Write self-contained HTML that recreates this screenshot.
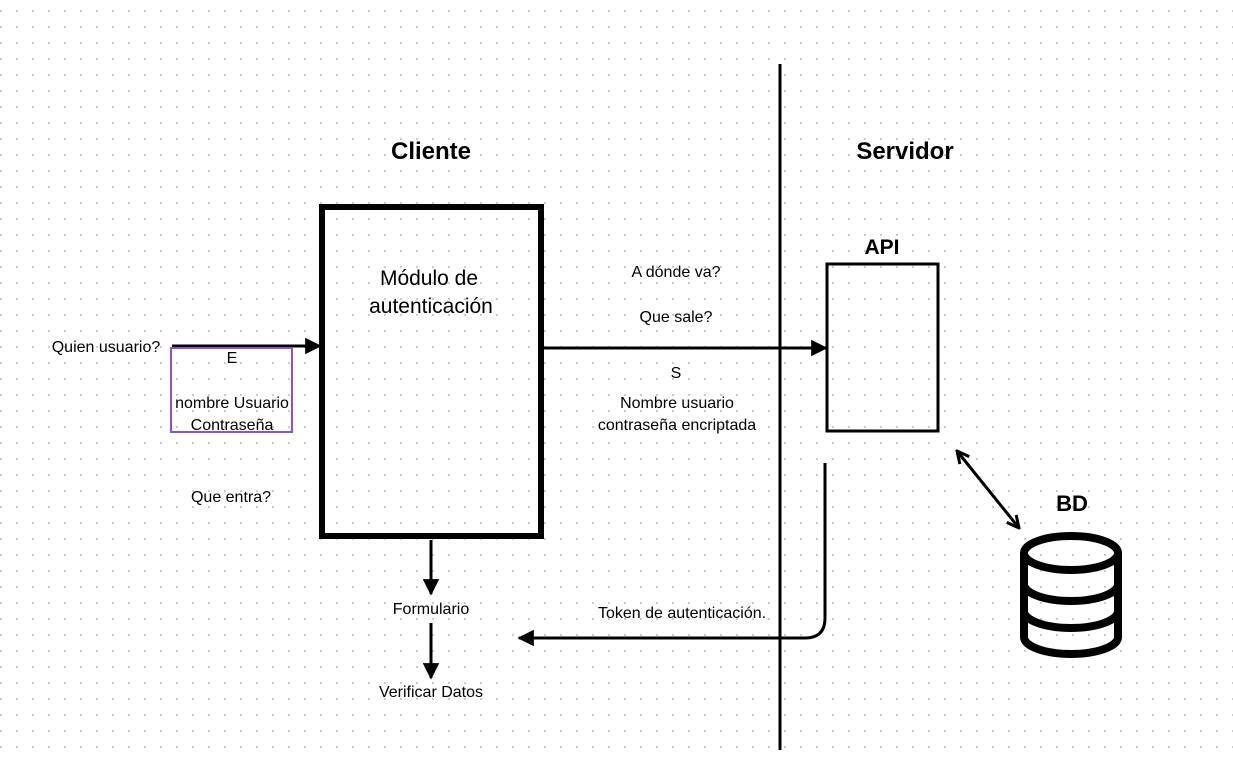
<!DOCTYPE html>
<html><head><meta charset="utf-8"><style>
html,body{margin:0;padding:0;background:#fff;}
svg{display:block;}
text{font-family:"Liberation Sans","DejaVu Sans",sans-serif;fill:#000;}
</style></head><body>
<svg width="1233" height="758" viewBox="0 0 1233 758" xmlns="http://www.w3.org/2000/svg">
<defs>
<pattern id="dots" x="0" y="10" width="16" height="16" patternUnits="userSpaceOnUse">
<rect x="0" y="0" width="2" height="2" fill="#c9cad6"/>
</pattern>
<marker id="tri" viewBox="0 0 10 10" refX="9" refY="5" markerWidth="5.5" markerHeight="5.5" orient="auto">
<path d="M0,0 L10,5 L0,10 Z" fill="#000"/>
</marker>
<marker id="ah" viewBox="0 0 10 10" refX="9" refY="5" markerWidth="5" markerHeight="5" orient="auto-start-reverse">
<path d="M1,1 L9,5 L1,9" fill="none" stroke="#000" stroke-width="2"/>
</marker>
</defs>
<rect width="1233" height="758" fill="#fff"/>
<rect width="1233" height="758" fill="url(#dots)"/>

<line x1="780" y1="64" x2="780" y2="750" stroke="#000" stroke-width="3"/>

<text x="431" y="159" font-size="24" font-weight="bold" text-anchor="middle">Cliente</text>
<text x="905" y="159" font-size="24" font-weight="bold" text-anchor="middle">Servidor</text>

<rect x="322" y="207" width="219" height="329" fill="none" stroke="#000" stroke-width="6"/>
<text x="429" y="285" font-size="21" text-anchor="middle">Módulo de</text>
<text x="431" y="313" font-size="21" text-anchor="middle">autenticación</text>

<text x="882" y="254" font-size="21" font-weight="bold" text-anchor="middle">API</text>
<rect x="827" y="264" width="111" height="167" fill="none" stroke="#000" stroke-width="3"/>

<line x1="172" y1="346" x2="320" y2="346" stroke="#000" stroke-width="3" marker-end="url(#tri)"/>
<text x="106" y="352" font-size="16" text-anchor="middle">Quien usuario?</text>
<rect x="171" y="348" width="121" height="84" fill="none" stroke="#8a4fe0" stroke-width="2"/>
<text x="232" y="363" font-size="16" text-anchor="middle">E</text>
<text x="232" y="408" font-size="16" text-anchor="middle">nombre Usuario</text>
<text x="232" y="430" font-size="16" text-anchor="middle">Contraseña</text>
<text x="231" y="502" font-size="16" text-anchor="middle">Que entra?</text>

<line x1="544" y1="348" x2="826" y2="348" stroke="#000" stroke-width="3" marker-end="url(#tri)"/>
<text x="676" y="277" font-size="16" text-anchor="middle">A dónde va?</text>
<text x="676" y="322" font-size="16" text-anchor="middle">Que sale?</text>
<text x="676" y="378" font-size="16" text-anchor="middle">S</text>
<text x="677" y="408" font-size="16" text-anchor="middle">Nombre usuario</text>
<text x="677" y="430" font-size="16" text-anchor="middle">contraseña encriptada</text>

<line x1="431" y1="540" x2="431" y2="594" stroke="#000" stroke-width="3" marker-end="url(#tri)"/>
<text x="431" y="614" font-size="16" text-anchor="middle">Formulario</text>
<line x1="431" y1="623" x2="431" y2="678" stroke="#000" stroke-width="3" marker-end="url(#tri)"/>
<text x="431" y="697" font-size="16" text-anchor="middle">Verificar Datos</text>

<path d="M825,463 L825,618 Q825,638 805,638 L519,638" fill="none" stroke="#000" stroke-width="3" marker-end="url(#tri)"/>
<text x="682" y="618" font-size="16" text-anchor="middle">Token de autenticación.</text>

<line x1="957" y1="451" x2="1019" y2="528" stroke="#000" stroke-width="3" marker-start="url(#ah)" marker-end="url(#ah)"/>
<text x="1072" y="511" font-size="22" font-weight="bold" text-anchor="middle">BD</text>

<g fill="none" stroke="#000" stroke-width="8">
<ellipse cx="1071" cy="553" rx="47" ry="17"/>
<path d="M1024,553 L1024,637 A47,17 0 0 0 1118,637 L1118,553"/>
<path d="M1024,584 A47,17 0 0 0 1118,584"/>
<path d="M1024,611 A47,17 0 0 0 1118,611"/>
</g>
</svg>
</body></html>
